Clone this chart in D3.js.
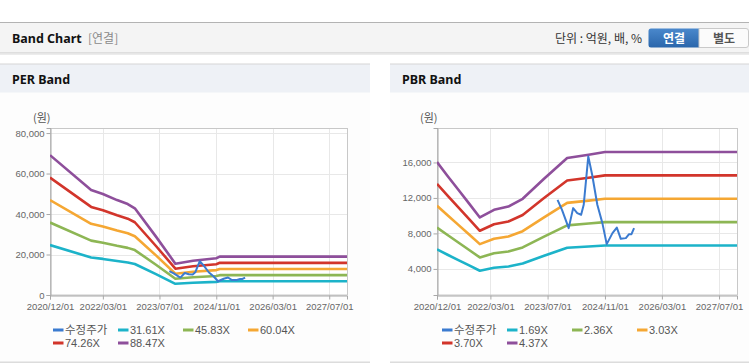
<!DOCTYPE html>
<html><head><meta charset="utf-8">
<script src="https://cdn.jsdelivr.net/npm/d3@7"></script>
<style>
html,body{margin:0;padding:0;background:#fff;}
svg{display:block;}
</style></head>
<body>
<div id="chart"></div>
<script>
// ---------- DATA ----------
const seriesNames = ["수정주가"];
const perMultiples = ["31.61X","45.83X","60.04X","74.26X","88.47X"];
const pbrMultiples = ["1.69X","2.36X","3.03X","3.70X","4.37X"];
const xTickLabels = ["2020/12/01","2022/03/01","2023/07/01","2024/11/01","2026/03/01","2027/07/01"];
const perYTicks = [0,20000,40000,60000,80000];
const pbrYTicks = [4000,8000,12000,16000];

const perDates = ["2020-12-01","2021-11-20","2022-03-01","2022-07-01","2022-10-01","2022-12-01","2023-06-01","2023-11-15","2024-04-15","2024-11-01","2024-12-01","2027-12-01"];
const per31 = [24687,18523,17828,16753,16058,15299,10305,5532,6038,6480,6765,6765];
const per45 = [35793,26856,25848,24290,23282,22182,14941,8020,8754,9395,9808,9808];
const per60 = [46891,35183,33863,31821,30500,29059,19573,10507,11468,12308,12849,12849];
const per74 = [57997,43516,41883,39358,37724,35942,24209,12996,14184,15223,15892,15892];
const per88 = [69095,51843,49897,46889,44943,42819,28841,15482,16898,18136,18933,18933];

const pbrDates = ["2020-12-01","2021-03-01","2021-06-01","2021-09-01","2021-12-01","2022-04-01","2022-08-01","2022-12-01","2023-06-01","2023-12-15","2024-06-15","2024-11-01","2027-12-01"];
const pbr169 = [6202,5599,4997,4394,3791,4124,4266,4602,5476,6381,6523,6640,6640];
const pbr236 = [8661,7819,6979,6136,5293,5758,5957,6426,7646,8911,9110,9272,9272];
const pbr303 = [11120,10038,8960,7878,6796,7393,7648,8251,9817,11441,11696,11905,11905];
const pbr370 = [13579,12258,10941,9620,8299,9028,9339,10075,11988,13971,14282,14537,14537];
const pbr437 = [16038,14478,12922,11362,9802,10663,11030,11900,14159,16501,16868,17170,17170];

const priceDates = ["2023-09-24","2023-11-01","2023-12-28","2024-02-04","2024-03-10","2024-04-12","2024-05-04","2024-06-12","2024-07-15","2024-08-28","2024-10-10","2024-11-16","2025-01-04","2025-02-10","2025-03-16","2025-04-28","2025-05-25","2025-06-15","2025-07-07"];
const priceValues = [11790,10660,8600,10850,10290,10100,11230,16680,14610,11230,9160,6790,8030,8660,7390,7470,7920,7920,8600];

const colors = ["#3b7bd0","#1cb3c9","#8db654","#f5a733","#d2352b","#8e4f9b"];

// ---------- DRAW ----------
const W = 749, H = 364;
const parse = d3.timeParse("%Y-%m-%d");
const tickParse = d3.timeParse("%Y/%m/%d");
const svg = d3.select("#chart").append("svg").attr("width", W).attr("height", H)
  .style("font-family", "'Liberation Sans', Arial, 'Noto Sans CJK KR', sans-serif");

// top header
svg.append("rect").attr("x",0).attr("y",0).attr("width",W).attr("height",H).attr("fill","#fff");
svg.append("rect").attr("x",0).attr("y",22).attr("width",W).attr("height",1).attr("fill","#b3b3b3");
svg.append("rect").attr("x",0).attr("y",23).attr("width",W).attr("height",29.5).attr("fill","#f4f4f4");
svg.append("rect").attr("x",0).attr("y",52.5).attr("width",W).attr("height",1).attr("fill","#c4c4c4");
svg.append("rect").attr("x",0).attr("y",53.5).attr("width",W).attr("height",1.5).attr("fill","#ececec");
svg.append("text").attr("x",12).attr("y",43).attr("font-size","12.5px").attr("font-weight","bold")
  .attr("fill","#111").style("font-family","'Noto Sans','Liberation Sans',sans-serif").text("Band Chart");
svg.append("text").attr("x",88).attr("y",43).attr("font-size","12px").attr("fill","#8a8a8a")
  .style("font-family","'Noto Sans CJK KR',sans-serif").text("[연결]");
svg.append("text").attr("x",642).attr("y",43).attr("text-anchor","end").attr("font-size","12px").attr("fill","#333")
  .style("font-family","'Noto Sans CJK KR',sans-serif").text("단위 : 억원, 배, %");
const grad = svg.append("defs").append("linearGradient").attr("id","btn").attr("x1",0).attr("x2",0).attr("y1",0).attr("y2",1);
grad.append("stop").attr("offset","0%").attr("stop-color","#4a88cc");
grad.append("stop").attr("offset","100%").attr("stop-color","#2a66ab");
svg.append("path").attr("d","M651,28.5 H699 V47.5 H651 Q648.5,47.5 648.5,45 V31 Q648.5,28.5 651,28.5 Z").attr("fill","url(#btn)");
svg.append("text").attr("x",674).attr("y",42.5).attr("text-anchor","middle").attr("font-size","12px").attr("font-weight","bold")
  .attr("fill","#fff").style("font-family","'Noto Sans CJK KR',sans-serif").text("연결");
svg.append("path").attr("d","M699,28.5 H746 Q748.5,28.5 748.5,31 V45 Q748.5,47.5 746,47.5 H699 Z")
  .attr("fill","#fbfbfb").attr("stroke","#c9c9c9").attr("stroke-width",1);
svg.append("text").attr("x",724).attr("y",42.5).attr("text-anchor","middle").attr("font-size","12px").attr("font-weight","bold")
  .attr("fill","#555").style("font-family","'Noto Sans CJK KR',sans-serif").text("별도");

function panel(cfg){
  const g = svg.append("g");
  g.append("rect").attr("x",cfg.x0).attr("y",64).attr("width",cfg.x1-cfg.x0).attr("height",298).attr("fill","#fdfdfd");
  g.append("rect").attr("x",cfg.x0).attr("y",64).attr("width",cfg.x1-cfg.x0).attr("height",28.5).attr("fill","#eef1f6");
  g.append("rect").attr("x",cfg.x0).attr("y",63.5).attr("width",cfg.x1-cfg.x0).attr("height",1).attr("fill","#d6d6d6");
  g.append("rect").attr("x",cfg.x0).attr("y",361.5).attr("width",cfg.x1-cfg.x0).attr("height",1.5).attr("fill","#dcdcdc");
  g.append("text").attr("x",cfg.x0+12).attr("y",84).attr("font-size","12.5px").attr("font-weight","bold").attr("fill","#111")
    .style("font-family","'Noto Sans','Liberation Sans',sans-serif").text(cfg.title);

  const x = d3.scaleTime().domain([parse("2020-12-01"), parse("2027-12-01")]).range([cfg.pl, cfg.pr]);
  const y = d3.scaleLinear().domain(cfg.yDomain).range([295, 128]);
  const xt = xTickLabels.map(s => tickParse(s));

  g.append("rect").attr("x",cfg.pl).attr("y",128).attr("width",cfg.pr-cfg.pl).attr("height",167).attr("fill","#fff");
  // grid
  g.selectAll(".vg").data(xt).enter().append("line")
    .attr("x1",d=>Math.round(x(d))+0.5).attr("x2",d=>Math.round(x(d))+0.5).attr("y1",128).attr("y2",295)
    .attr("stroke","#e8e8e8");
  g.selectAll(".hg").data(cfg.yTicks).enter().append("line")
    .attr("x1",cfg.pl).attr("x2",cfg.pr).attr("y1",d=>Math.round(y(d))+0.5).attr("y2",d=>Math.round(y(d))+0.5)
    .attr("stroke","#e8e8e8");
  // frame
  g.append("rect").attr("x",cfg.pl+0.5).attr("y",128.5).attr("width",cfg.pr-cfg.pl).attr("height",166.5)
    .attr("fill","none").attr("stroke","#c8c8c8");

  // axes
  const yAxis = d3.axisLeft(y).tickValues(cfg.yTicks).tickSize(4).tickPadding(2).tickFormat(d3.format(","));
  const ya = g.append("g").attr("transform",`translate(${cfg.pl+0.5},0)`).call(yAxis);
  const xAxis = d3.axisBottom(x).tickValues(xt).tickSize(4).tickPadding(4).tickFormat(d3.timeFormat("%Y/%m/%d"));
  const xa = g.append("g").attr("transform","translate(0,295.5)").call(xAxis);
  [ya, xa].forEach(a => {
    a.select(".domain").attr("stroke","#a8a8a8");
    a.selectAll(".tick line").attr("stroke","#a8a8a8");
    a.selectAll("text").attr("fill","#666").attr("font-size","9.5px")
      .style("font-family","'Liberation Sans',Arial,sans-serif");
  });
  g.append("text").attr("x",cfg.pl-17).attr("y",122).attr("font-size","11px").attr("fill","#555")
    .style("font-family","'Noto Sans CJK KR',sans-serif").text("(원)");

  // bands
  const clip = "clip" + cfg.title.replace(/\s/g,"");
  svg.select("defs").append("clipPath").attr("id",clip).append("rect")
    .attr("x",cfg.pl).attr("y",128).attr("width",cfg.pr-cfg.pl).attr("height",167);
  const line = d3.line().x(d=>x(d[0])).y(d=>y(d[1]));
  const lg = g.append("g").attr("clip-path",`url(#${clip})`);
  cfg.bands.forEach((vals,i)=>{
    const pts = cfg.dates.map((d,j)=>[parse(d), vals[j]]);
    lg.append("path").attr("d",line(pts)).attr("fill","none").attr("stroke",colors[i+1])
      .attr("stroke-width",2.6).attr("stroke-linejoin","round");
  });
  const ppts = priceDates.map((d,j)=>[parse(d), priceValues[j]]);
  lg.append("path").attr("d",line(ppts)).attr("fill","none").attr("stroke",colors[0])
    .attr("stroke-width",2).attr("stroke-linejoin","round");

  // legend
  const names = seriesNames.concat(cfg.names);
  names.forEach((n,i)=>{
    const col = i%4, row = Math.floor(i/4);
    const lx = cfg.legX + col*65, ly = 330 + row*13;
    g.append("rect").attr("x",lx).attr("y",ly-1.5).attr("width",10.5).attr("height",3).attr("fill",colors[i]);
    g.append("text").attr("x",lx+12).attr("y",ly+4).attr("font-size", i===0 ? "11.5px" : "11px").attr("fill","#555")
      .style("font-family", i===0 ? "'Noto Sans CJK KR',sans-serif" : "'Liberation Sans',Arial,sans-serif").text(n);
  });
}

panel({x0:0, x1:370, title:"PER Band", pl:50, pr:347, yDomain:[0,82500], yTicks:perYTicks,
  dates:perDates, bands:[per31,per45,per60,per74,per88], names:perMultiples, legX:53});
panel({x0:390, x1:749, title:"PBR Band", pl:437, pr:737, yDomain:[1060,19880], yTicks:pbrYTicks,
  dates:pbrDates, bands:[pbr169,pbr236,pbr303,pbr370,pbr437], names:pbrMultiples, legX:442});
</script>
</body></html>
